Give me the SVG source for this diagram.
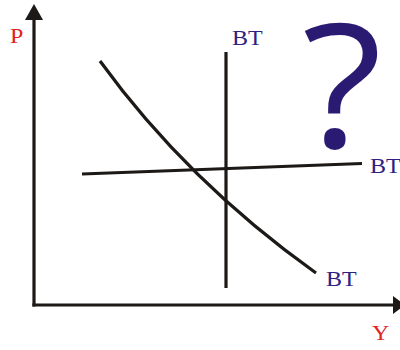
<svg xmlns="http://www.w3.org/2000/svg" width="400" height="350" viewBox="0 0 400 350">
<style>
.ln{fill:none;stroke:#1c1917;stroke-width:3.2;stroke-linecap:butt}
.bt{fill:#2e2183;font-family:"Liberation Serif",serif;font-size:20px}
.ax{fill:#e0231d;font-family:"Liberation Serif",serif;font-size:20px}
.q{fill:#2a1a72;font-family:"Open Sans","Noto Sans",sans-serif;font-size:172px;font-weight:500}
</style>
<rect width="400" height="350" fill="#ffffff"/>
<g id="axes">
<line class="ln" x1="34" y1="306.6" x2="34" y2="18"/>
<polygon points="34,4 43,20 25,20" fill="#1c1917"/>
<line class="ln" x1="32.4" y1="305" x2="395" y2="305"/>
<polygon points="405,305 393,296 393,314" fill="#1c1917"/>
</g>
<g id="connectors">
<path id="curve-demand" class="ln" d="M100,61 Q187,181 316,273"/>
<line id="line-vertical" class="ln" x1="226" y1="52" x2="226" y2="288"/>
<line id="line-horizontal" class="ln" x1="82" y1="174" x2="362" y2="163.5"/>
</g>
<g id="label-P"><text class="ax" transform="translate(10,43) scale(1.2,1)">P</text></g>
<g id="label-Y"><text class="ax" transform="translate(372,340) scale(1.2,1)">Y</text></g>
<g id="label-BT-top"><text class="bt" transform="translate(232,45) scale(1.2,1)">BT</text></g>
<g id="label-BT-right"><text class="bt" transform="translate(370,173) scale(1.2,1)">BT</text></g>
<g id="label-BT-bottom"><text class="bt" transform="translate(326,286) scale(1.2,1)">BT</text></g>
<g id="question"><text class="q" transform="translate(302,148) scale(1.08,1)">?</text></g>
</svg>
